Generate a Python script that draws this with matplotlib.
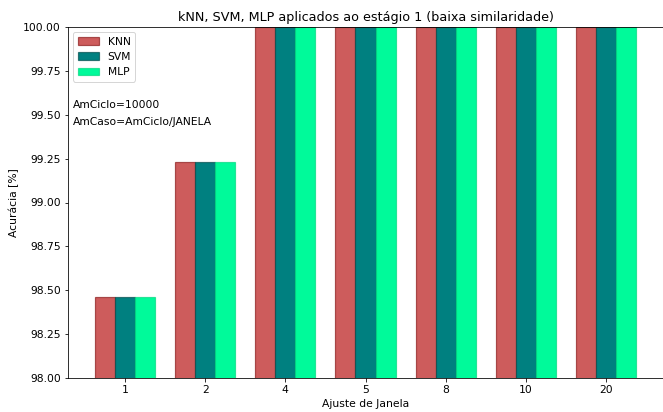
import matplotlib
matplotlib.use('Agg')
import matplotlib.pyplot as plt
import numpy as np

janelas = ['1', '2', '4', '5', '8', '10', '20']
knn = [98.46, 99.23, 100.0, 100.0, 100.0, 100.0, 100.0]
svm = [98.46, 99.23, 100.0, 100.0, 100.0, 100.0, 100.0]
mlp = [98.46, 99.23, 100.0, 100.0, 100.0, 100.0, 100.0]

plt.rcParams['font.size'] = 10.7

x = np.arange(len(janelas))
w = 0.25

fig = plt.figure(figsize=(663 / 72, 412 / 72), dpi=72)
ax = fig.add_axes([68 / 663, 34 / 412, (663 - 68) / 663, 351 / 412])

ax.bar(x - w, knn, w, color='indianred', edgecolor=(0.55, 0.1, 0.1, 0.7), linewidth=1.2, label='KNN')
ax.bar(x, svm, w, color='teal', edgecolor=(0.0, 0.3, 0.3, 0.7), linewidth=1.2, label='SVM')
ax.bar(x + w, mlp, w, color='mediumspringgreen', edgecolor=(0.0, 0.85, 0.5, 0.7), linewidth=1.2, label='MLP')

ax.set_ylim(98, 100)
ax.set_yticks(np.arange(98, 100.01, 0.25))
ax.set_yticklabels(['%.2f' % v for v in np.arange(98, 100.01, 0.25)])
ax.set_xticks(x)
ax.set_xticklabels(janelas)
ax.set_xlabel('Ajuste de Janela')
ax.set_ylabel('Acurácia [%]')
ax.set_title('kNN, SVM, MLP aplicados ao estágio 1 (baixa similaridade)', fontsize=12.8)
ax.legend(loc='upper left')
ax.text(0.008, 0.77, 'AmCiclo=10000', transform=ax.transAxes)
ax.text(0.008, 0.72, 'AmCaso=AmCiclo/JANELA', transform=ax.transAxes)

fig.savefig('out.png', dpi=72)
